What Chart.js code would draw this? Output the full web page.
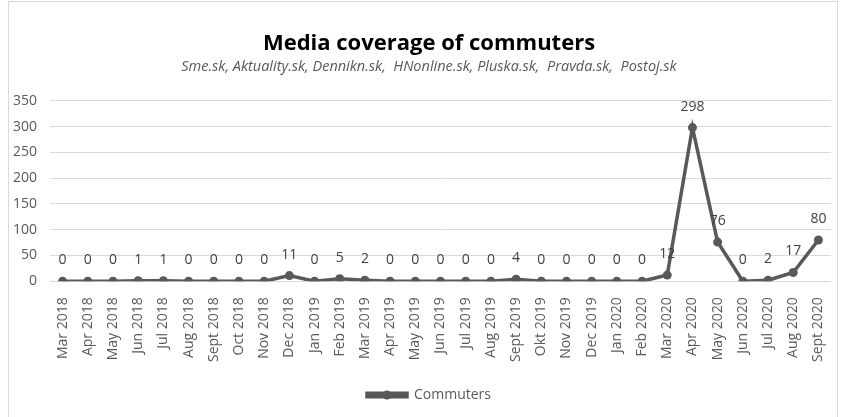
<!DOCTYPE html>
<html>
<head>
<meta charset="utf-8">
<script src="https://cdn.jsdelivr.net/npm/chart.js@4"></script>
<style>
  html, body { margin: 0; padding: 0; background: #fff; overflow: hidden; }
  #frame {
    position: absolute; left: 8px; top: 1px;
    width: 830px; height: 420px;
    border: 1px solid #d9d9d9; box-sizing: border-box;
  }
  #chart { position: absolute; left: -5px; top: 2px; }
</style>
</head>
<body>
<div id="frame"></div>
<canvas id="chart" width="863" height="410"></canvas>
<script>
const months = [
  'Mar 2018', 'Apr 2018', 'May 2018', 'Jun 2018', 'Jul 2018', 'Aug 2018', 'Sept 2018', 'Oct 2018', 'Nov 2018', 'Dec 2018',
  'Jan 2019', 'Feb 2019', 'Mar 2019', 'Apr 2019', 'May 2019', 'Jun 2019', 'Jul 2019', 'Aug 2019', 'Sept 2019', 'Okt 2019',
  'Nov 2019', 'Dec 2019', 'Jan 2020', 'Feb 2020', 'Mar 2020', 'Apr 2020', 'May 2020', 'Jun 2020', 'Jul 2020', 'Aug 2020', 'Sept 2020'
];
const commuters = [0, 0, 0, 1, 1, 0, 0, 0, 0, 11, 0, 5, 2, 0, 0, 0, 0, 0, 4, 0, 0, 0, 0, 0, 12, 298, 76, 0, 2, 17, 80];
const yTicks = [0, 50, 100, 150, 200, 250, 300, 350];

const lineColor = '#595959';
const textColor = '#595959';
const fontFamily = "'Open Sans', sans-serif";

// value labels above each point
const valueLabels = {
  id: 'valueLabels',
  afterDatasetsDraw(chart) {
    const ctx = chart.ctx;
    const meta = chart.getDatasetMeta(0);
    ctx.save();
    ctx.font = '14px ' + fontFamily;
    ctx.fillStyle = '#404040';
    ctx.textAlign = 'center';
    ctx.textBaseline = 'bottom';
    meta.data.forEach((pt, i) => {
      ctx.fillText(String(commuters[i]), pt.x, pt.y - 14);
    });
    ctx.restore();
  }
};

// put a dot on the legend line, Excel style
const legendDot = {
  id: 'legendDot',
  afterDraw(chart) {
    const boxes = chart.legend && chart.legend.legendHitBoxes;
    if (!boxes || !boxes.length) return;
    const b = boxes[0];
    const ctx = chart.ctx;
    ctx.save();
    ctx.fillStyle = lineColor;
    ctx.beginPath();
    ctx.arc(b.left + 20, b.top + b.height / 2, 4.5, 0, Math.PI * 2);
    ctx.fill();
    ctx.restore();
  }
};

new Chart(document.getElementById('chart'), {
  type: 'line',
  data: {
    labels: months,
    datasets: [{
      label: 'Commuters',
      data: commuters,
      borderColor: lineColor,
      backgroundColor: lineColor,
      borderWidth: 3.5,
      pointRadius: 4.5,
      pointBackgroundColor: lineColor,
      pointBorderWidth: 0,
      tension: 0
    }]
  },
  options: {
    responsive: false,
    animation: false,
    devicePixelRatio: 1,
    layout: { padding: { left: 5, right: 0, top: 16, bottom: 0 } },
    plugins: {
      title: {
        display: true,
        text: 'Media coverage of commuters',
        color: '#000',
        font: { family: fontFamily, size: 22, weight: 'bold' },
        padding: { top: 13, bottom: 1 }
      },
      subtitle: {
        display: true,
        text: 'Sme.sk, Aktuality.sk, Dennikn.sk,  HNonline.sk, Pluska.sk,  Pravda.sk,  Postoj.sk',
        color: textColor,
        font: { family: fontFamily, size: 14.5, style: 'italic' },
        padding: { bottom: 25 }
      },
      legend: {
        position: 'bottom',
        labels: {
          color: textColor,
          font: { family: fontFamily, size: 14 },
          boxWidth: 40,
          boxHeight: 3.5,
          padding: 4
        }
      },
      tooltip: { enabled: false }
    },
    scales: {
      x: {
        offset: true,
        grid: { display: false },
        border: { display: false },
        afterFit(scale) {
          scale.height += 14;
        },
        ticks: {
          color: textColor,
          font: { family: fontFamily, size: 14 },
          maxRotation: 90,
          minRotation: 90,
          autoSkip: false,
          padding: 8
        }
      },
      y: {
        min: 0,
        max: 350,
        afterBuildTicks(axis) {
          axis.ticks = yTicks.map(v => ({ value: v }));
        },
        grid: { color: '#d9d9d9', lineWidth: 1, drawTicks: false },
        border: { display: false },
        ticks: {
          color: textColor,
          font: { family: fontFamily, size: 14 },
          padding: 13
        }
      },
      // empty right-hand axis, only keeps a margin on the right side
      yRight: {
        type: 'linear',
        position: 'right',
        min: 0,
        max: 350,
        grid: { display: false },
        border: { display: false },
        ticks: { display: false },
        afterFit(scale) {
          scale.width = 27;
        }
      }
    }
  },
  plugins: [valueLabels, legendDot]
});
</script>
</body>
</html>
